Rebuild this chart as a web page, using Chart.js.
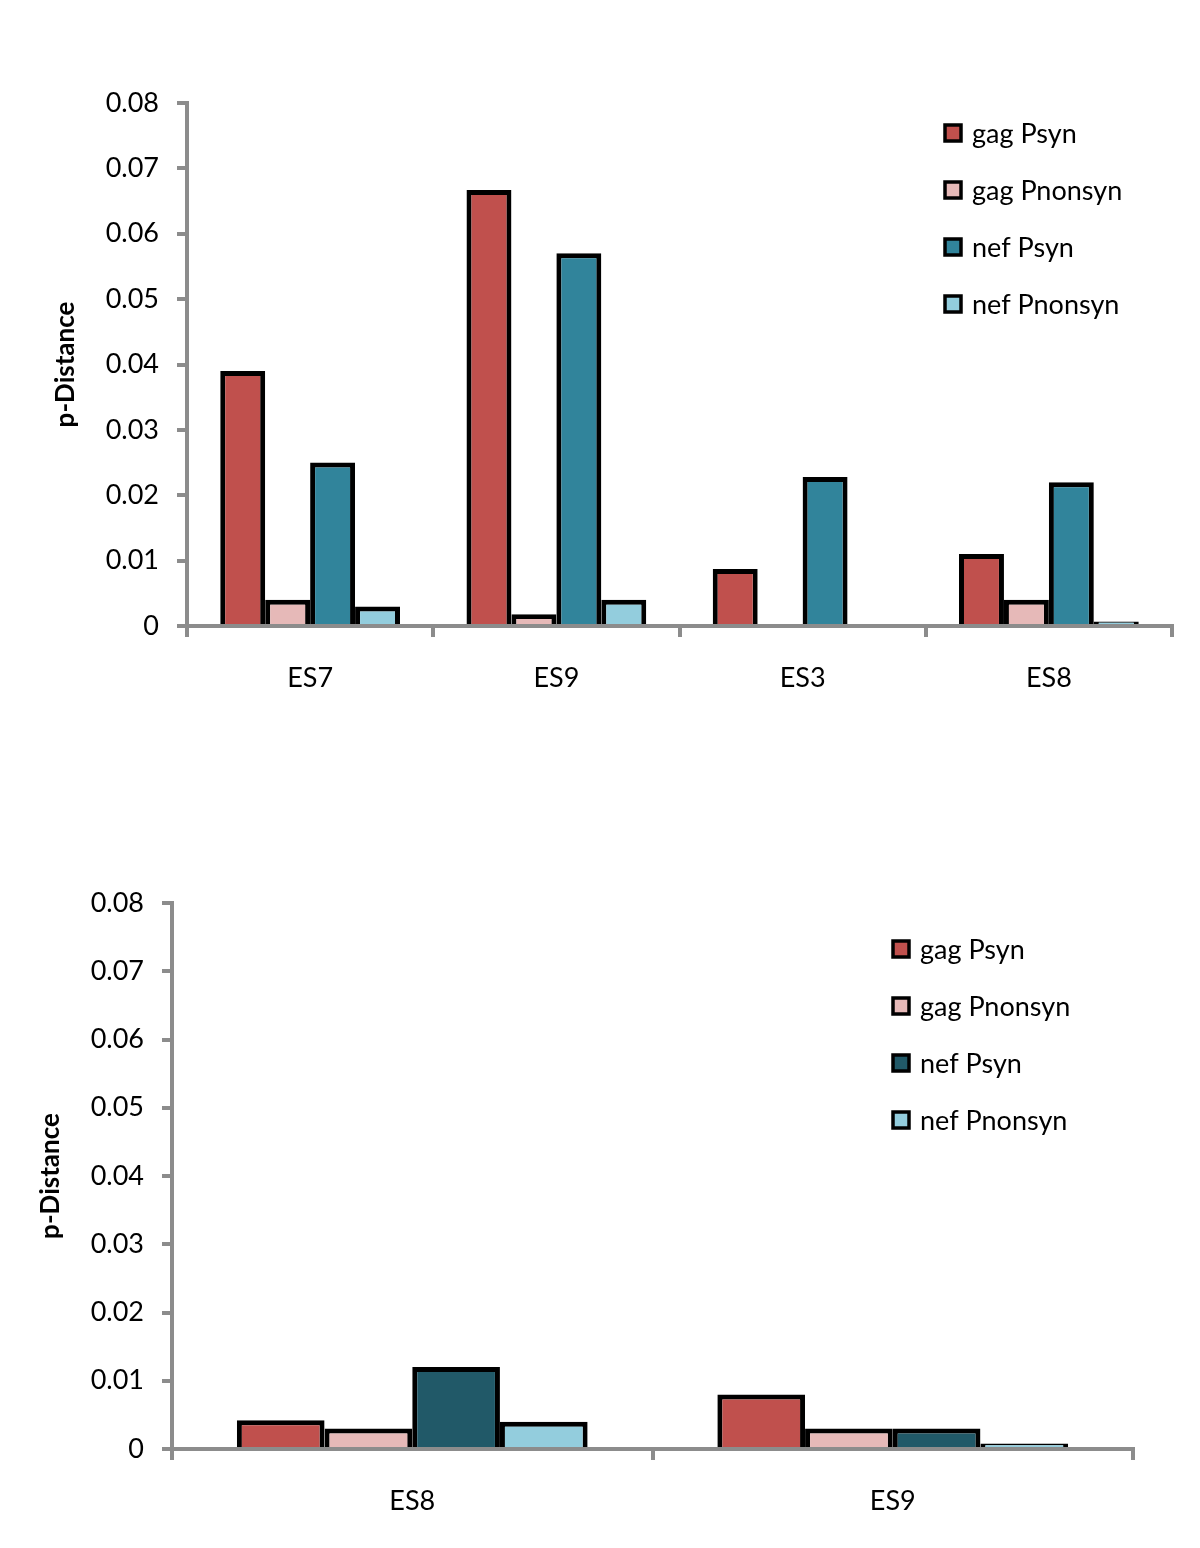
<!DOCTYPE html>
<html>
<head>
<meta charset="utf-8">
<script src="https://cdn.jsdelivr.net/npm/chart.js@4/dist/chart.umd.min.js"></script>
<style>
  html, body { margin: 0; padding: 0; background: #fff; }
  .wrap { position: absolute; left: 0; width: 1200px; height: 774px; }
  canvas { display: block; }
</style>
</head>
<body>
<div class="wrap" style="top:0"><canvas id="c1" width="1200" height="774"></canvas></div>
<div class="wrap" style="top:774px"><canvas id="c2" width="1200" height="774"></canvas></div>
<script>
// ---- Data ----
const seriesNames = ['gag Psyn', 'gag Pnonsyn', 'nef Psyn', 'nef Pnonsyn'];
const yTickValues = [0, 0.01, 0.02, 0.03, 0.04, 0.05, 0.06, 0.07, 0.08];

const categoriesTop = ['ES7', 'ES9', 'ES3', 'ES8'];
const gagPsynTop = [0.039, 0.0667, 0.0087, 0.011];
const gagPnonsynTop = [0.004, 0.0018, 0, 0.004];
const nefPsynTop = [0.025, 0.057, 0.0228, 0.022];
const nefPnonsynTop = [0.003, 0.004, 0, 0.0007];

const categoriesBottom = ['ES8', 'ES9'];
const gagPsynBottom = [0.0042, 0.008];
const gagPnonsynBottom = [0.003, 0.003];
const nefPsynBottom = [0.012, 0.003];
const nefPnonsynBottom = [0.004, 0.0008];

// ---- Styles ----
const FONT = 'Lato, "Open Sans", sans-serif';
const AXIS_GRAY = '#8c8c8c';
const colorsTop = ['#C0504D', '#E6B9B8', '#31849B', '#93CDDD'];
const colorsBottom = ['#C0504D', '#E6B9B8', '#215968', '#93CDDD'];

const legendPlugin = {
  id: 'customLegend',
  afterDraw(chart, args, opts) {
    const ctx = chart.ctx;
    ctx.save();
    chart.data.datasets.forEach((ds, i) => {
      const y = opts.y + i * opts.gap;
      ctx.fillStyle = ds.backgroundColor;
      ctx.strokeStyle = '#000';
      ctx.lineWidth = 3.5;
      ctx.fillRect(opts.x, y - 8, 16, 16);
      ctx.strokeRect(opts.x, y - 8, 16, 16);
      ctx.fillStyle = '#000';
      ctx.font = '27px ' + FONT;
      ctx.textBaseline = 'middle';
      ctx.textAlign = 'left';
      ctx.fillText(ds.label, opts.x + 27, y + 1);
    });
    ctx.restore();
  }
};

function makeChart(id, cats, values, colors, geo) {
  const datasets = values.map((v, i) => ({
    label: seriesNames[i],
    data: v,
    backgroundColor: colors[i],
    borderColor: '#000',
    borderWidth: 5,
    categoryPercentage: 0.73,
    barPercentage: 1.0
  }));
  return new Chart(document.getElementById(id), {
    type: 'bar',
    data: { labels: cats, datasets },
    plugins: [legendPlugin],
    options: {
      responsive: false,
      animation: false,
      devicePixelRatio: 1,
      layout: { padding: { top: geo.top, right: geo.right, bottom: geo.bottom, left: 0 } },
      plugins: {
        legend: { display: false },
        tooltip: { enabled: false },
        customLegend: { x: geo.legendX, y: geo.legendY, gap: 57 }
      },
      scales: {
        x: {
          grid: { display: true, drawOnChartArea: false, drawTicks: true, tickLength: 11, color: AXIS_GRAY, lineWidth: 4, offset: true },
          border: { display: true, color: AXIS_GRAY, width: 4 },
          ticks: { color: '#000', font: { family: FONT, size: 27 }, padding: 25 },
          afterFit: (s) => { s.height = geo.xHeight; }
        },
        y: {
          min: 0, max: 0.08,
          afterBuildTicks: (s) => { s.ticks = yTickValues.map(v => ({ value: v })); },
          grid: { display: true, drawOnChartArea: false, drawTicks: true, tickLength: 10, color: AXIS_GRAY, lineWidth: 4 },
          border: { display: true, color: AXIS_GRAY, width: 4 },
          ticks: {
            color: '#000', font: { family: FONT, size: 27 }, padding: 18,
            callback: (v) => (v === 0 ? '0' : v.toFixed(2))
          },
          title: {
            display: true, text: 'p-Distance', color: '#000',
            font: { family: FONT, size: 26, weight: 'bold' },
            padding: { top: geo.titlePad, bottom: 0 }
          },
          afterFit: (s) => { s.width = geo.yWidth; }
        }
      }
    }
  });
}

makeChart('c1', categoriesTop, [gagPsynTop, gagPnonsynTop, nefPsynTop, nefPnonsynTop], colorsTop, {
  top: 103, right: 28, bottom: 48, xHeight: 100, yWidth: 187, titlePad: 50, legendX: 945, legendY: 133
});
makeChart('c2', categoriesBottom, [gagPsynBottom, gagPnonsynBottom, nefPsynBottom, nefPnonsynBottom], colorsBottom, {
  top: 129, right: 67, bottom: 0, xHeight: 99, yWidth: 172, titlePad: 35, legendX: 893, legendY: 175
});
</script>
</body>
</html>
